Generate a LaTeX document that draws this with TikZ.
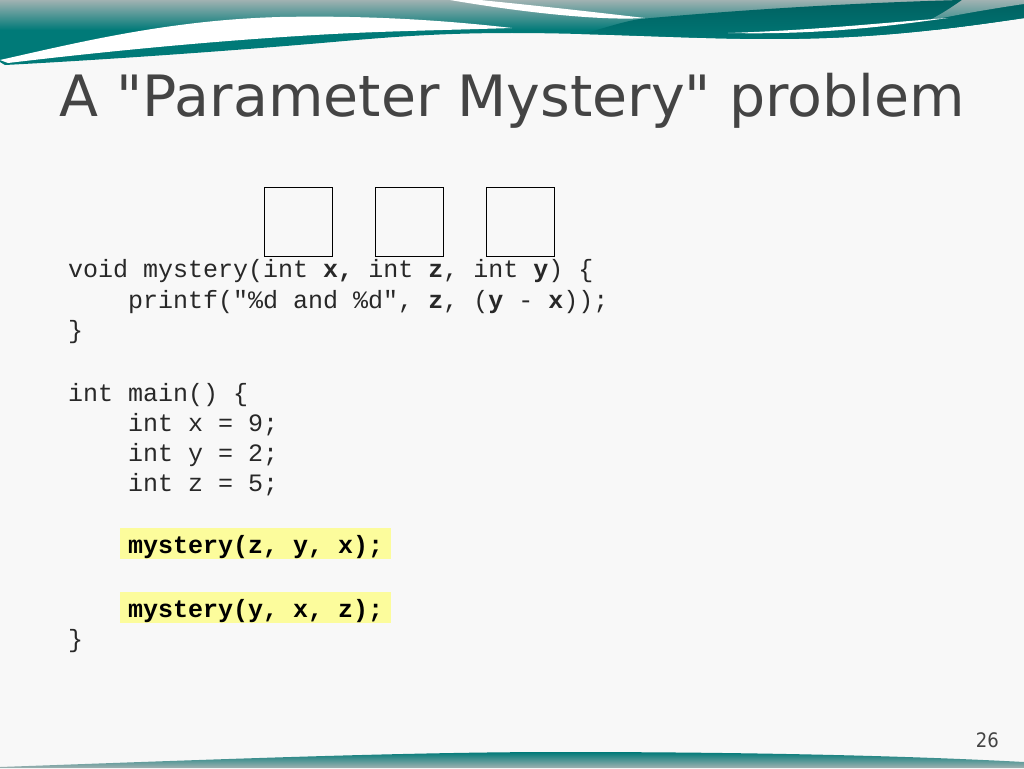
\documentclass[tikz,border=0pt]{standalone}
\usepackage{fontspec}
\usepackage{tikz}
\newfontfamily\titlefont{DejaVu Sans}
\newfontfamily\codefont{Liberation Mono}
\newfontfamily\pagefont{DejaVu Sans Condensed}
\definecolor{slidebg}{RGB}{248,248,248}
\definecolor{tealband}{RGB}{0,122,120}
\definecolor{tealgray}{RGB}{160,178,178}
\definecolor{tealdark}{RGB}{0,96,96}
\definecolor{titlegray}{RGB}{68,68,68}
\definecolor{codegray}{RGB}{40,40,40}
\definecolor{hilite}{RGB}{252,252,156}

\begin{document}
\begin{tikzpicture}[x=1pt,y=-1pt,
  codeline/.style={anchor=base west,inner sep=0pt,text=codegray,font=\codefont\frenchspacing\fontsize{25}{30}\selectfont},
  marked/.style={codeline,fill=hilite,text=black,inner xsep=8pt,text height=26pt,text depth=5pt},
  valbox/.style={draw=black,line width=0.75pt,minimum width=68.5pt,minimum height=69pt,inner sep=0pt}]
\useasboundingbox (0,0) rectangle (1024,768);
\fill[slidebg] (0,0) rectangle (1024,768);

% top banner
\begin{scope}
\clip (0,0) -- (1024,0) -- (1024,18) .. controls (930,32) and (860,39) .. (770,39) .. controls (690,39) and (600,33) .. (512,33) .. controls (440,33) and (390,37) .. (333,42) .. controls (230,51) and (100,60) .. (5,65) -- (0,62) -- cycle;
\fill[tealband] (0,0) rectangle (1024,70);
\shade[top color=tealgray,bottom color=tealband] (0,0) rectangle (1024,30);
\shade[top color=tealdark,bottom color=tealband] (560,40) .. controls (600,30) and (620,22) .. (640,19) .. controls (760,8) and (880,2) .. (962,0) -- (1024,0) -- (1024,45) -- (560,45) -- cycle;
\shade[top color=tealgray,bottom color=tealband!60!tealgray] (962,0) -- (1024,0) -- (1024,4) .. controls (990,9) and (955,15) .. (928,21) .. controls (945,12) and (955,5) .. (962,0) -- cycle;
\end{scope}
\fill[white] (450,0) -- (480,0) .. controls (560,8) and (610,14) .. (645,18) .. controls (600,21) and (520,12) .. (450,0) -- cycle;
\fill[white] (0,60) .. controls (80,42) and (170,20) .. (280,17) .. controls (380,15) and (460,22) .. (512,28) .. controls (450,30) and (390,31) .. (333,34) .. controls (220,40) and (100,52) .. (8,63) -- cycle;
\fill[white] (728,33) .. controls (820,35) and (890,26) .. (948,18) .. controls (890,22) and (820,30) .. (728,33) -- cycle;

% bottom banner
\shade[top color=tealband,middle color=tealband,bottom color=tealgray] (0,767) .. controls (200,760) and (400,752) .. (560,752) .. controls (800,752) and (950,758) .. (1024,762) -- (1024,768) -- (0,768) -- cycle;

\node[anchor=base west,inner sep=0pt,text=titlegray,font=\titlefont\fontsize{57}{68}\selectfont] (title) at (59.5,116) {A "Parameter Mystery" problem};
\node[anchor=base east,inner sep=0pt,text=titlegray,font=\pagefont\fontsize{20}{24}\selectfont] (pagenum) at (999,747) {26};

\node[valbox] (boxx) at (298.5,221.7) {};
\node[valbox] (boxz) at (409.2,221.7) {};
\node[valbox] (boxy) at (520.2,221.7) {};

\node[codeline] (sig) at (68,277) {void mystery(int \textbf{x,} int \textbf{z}, int \textbf{y}) \{};
\node[codeline] (body) at (128,308) {printf("\%d and \%d", \textbf{z}, (\textbf{y} - \textbf{x}));};
\node[codeline] (sigend) at (68,338.5) {\}};
\node[codeline] (main) at (68,401) {int main() \{};
\node[codeline] (decx) at (128,431.7) {int x = 9;};
\node[codeline] (decy) at (128,461.7) {int y = 2;};
\node[codeline] (decz) at (128,491.7) {int z = 5;};
\node[marked] (callone) at (120,553.5) {\textbf{mystery(z, y, x);}};
\node[marked] (calltwo) at (120,617.5) {\textbf{mystery(y, x, z);}};
\node[codeline] (mainend) at (68,647) {\}};
\end{tikzpicture}
\end{document}
